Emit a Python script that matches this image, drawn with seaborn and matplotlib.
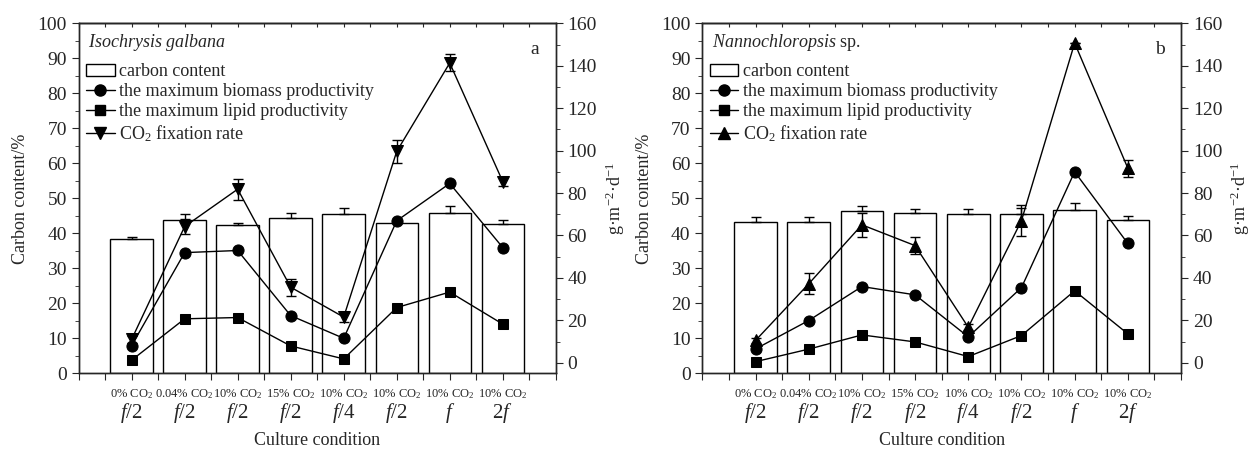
import matplotlib
matplotlib.use("Agg")
import matplotlib.pyplot as plt
import seaborn as sns
import numpy as np
from matplotlib.patches import Patch
from matplotlib.lines import Line2D
from matplotlib.ticker import MultipleLocator

# ---- data ----
positions = [1, 2, 3, 4, 5, 6, 7, 8]
co2_labels = ["0% CO$_2$", "0.04% CO$_2$", "10% CO$_2$", "15% CO$_2$",
              "10% CO$_2$", "10% CO$_2$", "10% CO$_2$", "10% CO$_2$"]
medium_labels = ["$f$/2", "$f$/2", "$f$/2", "$f$/2", "$f$/4", "$f$/2", "$f$", "2$f$"]

# (a) Isochrysis galbana
iso_carbon = [38.3, 43.9, 42.3, 44.5, 45.6, 42.9, 45.9, 42.6]
iso_carbon_err = [0.6, 1.6, 0.6, 1.2, 1.5, 0.5, 1.8, 1.1]
iso_biomass = [8.1, 51.9, 52.9, 22.2, 11.5, 66.9, 84.5, 54.3]
iso_lipid = [1.2, 20.7, 21.3, 7.9, 1.8, 26.0, 33.3, 18.2]
iso_fix = [11.0, 64.2, 81.8, 35.6, 21.5, 99.6, 141.3, 85.4]
iso_fix_err = [1.5, 3.5, 5.0, 4.0, 2.5, 5.5, 4.0, 2.0]

# (b) Nannochloropsis sp.
nan_carbon = [43.2, 43.3, 46.5, 45.9, 45.6, 45.4, 46.8, 43.9]
nan_carbon_err = [1.5, 1.4, 1.2, 1.0, 1.3, 1.7, 2.0, 1.0]
nan_biomass = [6.5, 19.9, 35.9, 32.0, 12.2, 35.4, 90.0, 56.2]
nan_lipid = [0.5, 6.4, 13.1, 9.8, 2.9, 12.8, 33.9, 13.6]
nan_fix = [10.5, 37.2, 65.0, 55.2, 16.7, 67.0, 150.7, 91.7]
nan_fix_err = [1.0, 5.0, 5.7, 4.0, 1.5, 7.5, 0.0, 4.0]

sns.set_style("ticks")
plt.rcParams["font.family"] = ["Liberation Serif", "DejaVu Serif"]
plt.rcParams["mathtext.fontset"] = "custom"
plt.rcParams["mathtext.rm"] = "Liberation Serif"
plt.rcParams["mathtext.it"] = "Liberation Serif:italic"
plt.rcParams["axes.linewidth"] = 1.0


def draw_panel(ax, title, letter, carbon, carbon_err, biomass, lipid, fix, fix_err, tri):
    sns.barplot(x=positions, y=carbon, native_scale=True, color="white", saturation=1,
                edgecolor="black", linewidth=1.0, width=0.8, errorbar=None, ax=ax)
    ax.errorbar(positions, carbon, yerr=[np.zeros(len(carbon)), carbon_err], fmt="none",
                ecolor="black", elinewidth=1, capsize=3.5, capthick=1)
    ax.set_xlim(0, 9)
    ax.set_ylim(0, 100)
    ax.yaxis.set_major_locator(MultipleLocator(10))
    ax.yaxis.set_minor_locator(MultipleLocator(5))
    ax.set_xticks(np.arange(0, 9.01, 0.5))
    ax.set_xticklabels([])
    ax.tick_params(axis="x", length=5, direction="out")
    ax.tick_params(axis="y", which="major", length=5, labelsize=14)
    ax.tick_params(axis="y", which="minor", length=3)
    ax.set_xlabel("")
    ax.set_ylabel("Carbon content/%", fontsize=13)
    ax.yaxis.set_label_coords(-0.104, 0.5)

    top = ax.secondary_xaxis("top")
    top.set_xticks(np.arange(0, 9.01, 0.5))
    top.tick_params(direction="in", length=3, labeltop=False)

    for x, c, m in zip(positions, co2_labels, medium_labels):
        ax.text(x, -0.058, c, transform=ax.get_xaxis_transform(), ha="center", va="center", fontsize=9)
        ax.text(x, -0.113, m, transform=ax.get_xaxis_transform(), ha="center", va="center", fontsize=15)
    ax.text(0.5, -0.193, "Culture condition", transform=ax.transAxes, ha="center", va="center", fontsize=13)

    ax2 = ax.twinx()
    line_kw = dict(color="black", linewidth=1.0, markeredgecolor="black", ax=ax2)
    sns.lineplot(x=positions, y=biomass, marker="o", markersize=8, **line_kw)
    sns.lineplot(x=positions, y=lipid, marker="s", markersize=7.5, **line_kw)
    sns.lineplot(x=positions, y=fix, marker=tri, markersize=9, **line_kw)
    ax2.errorbar(positions, fix, yerr=fix_err, fmt="none", ecolor="black",
                 elinewidth=1, capsize=3.5, capthick=1)
    ax2.set_ylim(-5, 160)
    ax2.yaxis.set_major_locator(MultipleLocator(20))
    ax2.yaxis.set_minor_locator(MultipleLocator(10))
    ax2.tick_params(axis="y", which="major", length=5, labelsize=14)
    ax2.tick_params(axis="y", which="minor", length=3)
    ax2.set_ylabel("g·m$^{-2}$·d$^{-1}$", fontsize=13)
    ax2.yaxis.set_label_coords(1.10, 0.5)

    handles = [
        Patch(facecolor="white", edgecolor="black", linewidth=1),
        Line2D([], [], color="black", marker="o", markersize=8, linewidth=1),
        Line2D([], [], color="black", marker="s", markersize=7, linewidth=1),
        Line2D([], [], color="black", marker=tri, markersize=9, linewidth=1),
    ]
    labels = ["carbon content", "the maximum biomass productivity",
              "the maximum lipid productivity", "CO$_2$ fixation rate"]
    ax2.legend(handles, labels, loc="upper left", bbox_to_anchor=(0.015, 0.886), frameon=False,
               fontsize=13, handlelength=1.6, handletextpad=0.25, labelspacing=0.17,
               borderpad=0, borderaxespad=0)
    ax2.text(0.02, 0.945, title, transform=ax2.transAxes, ha="left", va="center", fontsize=13)
    ax2.text(0.955, 0.925, letter, transform=ax2.transAxes, ha="center", va="center", fontsize=14)


fig = plt.figure(figsize=(12.52, 4.5), dpi=100)
ax_a = fig.add_axes([0.0628, 0.1704, 0.3811, 0.7778])
ax_b = fig.add_axes([0.5610, 0.1704, 0.3823, 0.7778])

draw_panel(ax_a, r"$\it{Isochrysis}\ \it{galbana}$", "a", iso_carbon, iso_carbon_err,
           iso_biomass, iso_lipid, iso_fix, iso_fix_err, "v")
draw_panel(ax_b, r"$\it{Nannochloropsis}$ sp.", "b", nan_carbon, nan_carbon_err,
           nan_biomass, nan_lipid, nan_fix, nan_fix_err, "^")

fig.savefig("out.png", dpi=100)
